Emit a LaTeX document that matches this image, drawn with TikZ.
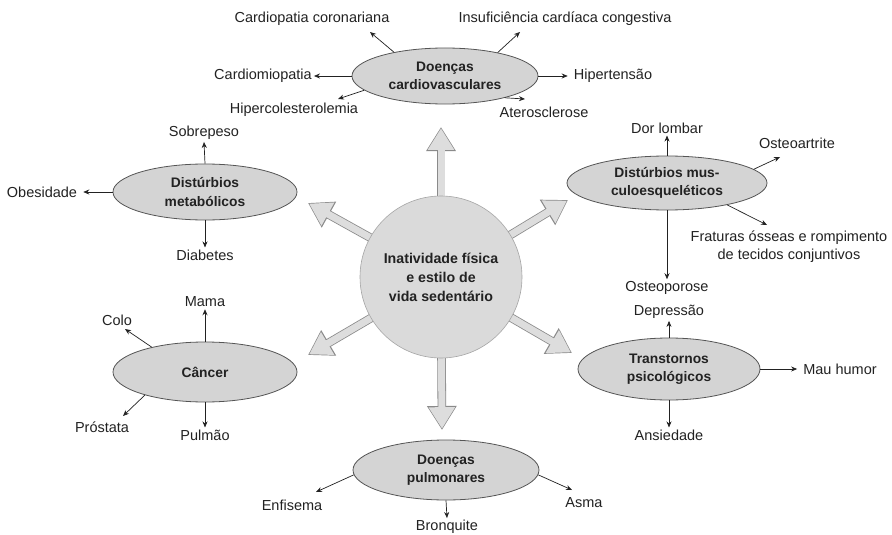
\documentclass[tikz,border=0pt]{standalone}
\usepackage{fontspec}
\setmainfont{Liberation Sans}
\usetikzlibrary{shapes.geometric,arrows.meta}
\definecolor{ellfill}{HTML}{D4D4D4}
\definecolor{ellline}{HTML}{555555}
\definecolor{txt}{HTML}{222222}
\definecolor{bigfill}{HTML}{DDDDDD}
\definecolor{bigline}{HTML}{8A8A8A}
\begin{document}
\begin{tikzpicture}[x=1pt,y=-1pt,
  lab/.style={font=\fontsize{14.5}{18}\selectfont, text=txt, inner sep=2pt, align=center},
  ell/.style={ellipse, draw=ellline, line width=0.8pt, fill=ellfill, inner sep=0pt, align=center, font=\fontsize{13.8}{18.5}\selectfont\bfseries, text=txt},
  sm/.style={draw=txt, line width=0.7pt, -{Stealth[length=6pt,width=5pt]}},
  bigout/.style={line width=8.6pt, bigline, -{Triangle[length=24pt,width=28pt]}},
  bigin/.style={line width=7pt, bigfill, -{Triangle[length=21.5pt,width=25pt]}, shorten >=1.3pt},
]
\useasboundingbox[fill=white] (0,0) rectangle (892,535);

% big arrow tips
\coordinate (tU) at (441,127);
\coordinate (tD) at (442,430);
\coordinate (tUL) at (308,203);
\coordinate (tUR) at (568,200);
\coordinate (tDL) at (308,355);
\coordinate (tDR) at (572,353);
\coordinate (cc0) at (441,277);
\foreach \t in {tU,tD,tUL,tUR,tDL,tDR}{
  \draw[bigout] (cc0) -- (\t);
  \draw[bigin] (cc0) -- (\t);
}

% central circle
\node[circle, minimum size=162pt, fill=ellfill!85, draw=gray!70, line width=0.6pt, inner sep=0pt,
  font=\fontsize{14.2}{19}\selectfont\bfseries, text=txt, align=center] (core) at (cc0)
  {Inatividade física\\e estilo de\\vida sedentário};

% ellipses
\node[ell, minimum width=186pt, minimum height=56pt] (cv) at (445,76) {Doenças\\cardiovasculares};
\node[ell, minimum width=184pt, minimum height=56pt] (met) at (205,192) {Distúrbios\\metabólicos};
\node[ell, minimum width=200pt, minimum height=54pt] (msk) at (667,183) {Distúrbios mus-\\culoesqueléticos};
\node[ell, minimum width=182pt, minimum height=62pt] (psy) at (669,369) {Transtornos\\psicológicos};
\node[ell, minimum width=184pt, minimum height=60pt] (can) at (205,372) {Câncer};
\node[ell, minimum width=186pt, minimum height=60pt] (pul) at (446,470) {Doenças\\pulmonares};

% cardiovascular labels
\node[lab] (lcc) at (312,19) {Cardiopatia coronariana};
\node[lab] (lins) at (565,19) {Insuficiência cardíaca congestiva};
\node[lab] (lcmio) at (263,76) {Cardiomiopatia};
\node[lab] (lhip) at (613,76) {Hipertensão};
\node[lab] (lhc) at (294,110) {Hipercolesterolemia};
\node[lab] (lath) at (544,112) {Aterosclerose};
\coordinate (a1) at (370,32);
\coordinate (a2) at (520,32);
\coordinate (a3) at (338,99);
\coordinate (a4) at (525,99);
\draw[sm] (cv.155) -- (a1);
\draw[sm] (cv.24) -- (a2);
\draw[sm] (cv.west) -- (lcmio.east);
\draw[sm, shorten >=4pt] (cv.east) -- (lhip.west);
\draw[sm] (cv.190) -- (a3);
\draw[sm] (cv.-20) -- (a4);

% metabolic
\node[lab] (lsob) at (204,133) {Sobrepeso};
\node[lab] (lobe) at (42,192) {Obesidade};
\node[lab] (ldia) at (205,255) {Diabetes};
\draw[sm] (met.north) -- (lsob.south);
\draw[sm, shorten >=4pt] (met.west) -- (lobe.east);
\draw[sm] (met.south) -- (ldia.north);

% musculoskeletal
\node[lab] (ldor) at (667,128) {Dor lombar};
\node[lab] (lost) at (797,143) {Osteoartrite};
\node[lab] (lfra) at (789,247) {Fraturas ósseas e rompimento\\de tecidos conjuntivos};
\node[lab] (lop) at (667,288) {Osteoporose};
\coordinate (a5) at (780,157);
\coordinate (a6) at (767,225);
\draw[sm] (msk.north) -- (ldor.south);
\draw[sm] (msk.9) -- (a5);
\draw[sm] (msk.-20) -- (a6);
\draw[sm] (msk.south) -- (lop.north);

% psychological
\node[lab] (ldep) at (669,312) {Depressão};
\node[lab] (lmau) at (840,369) {Mau humor};
\node[lab] (lans) at (669,435) {Ansiedade};
\draw[sm] (psy.north) -- (ldep.south);
\draw[sm, shorten >=4pt] (psy.east) -- (lmau.west);
\draw[sm] (psy.south) -- (lans.north);

% cancer
\node[lab] (lmama) at (205,302) {Mama};
\node[lab] (lcolo) at (117,320) {Colo};
\node[lab] (lpro) at (102,427) {Próstata};
\node[lab] (lpul) at (205,435) {Pulmão};
\coordinate (a7) at (125,329);
\coordinate (a8) at (123,416);
\draw[sm] (can.north) -- (lmama.south);
\draw[sm] (can.155) -- (a7);
\draw[sm] (can.201) -- (a8);
\draw[sm] (can.south) -- (lpul.north);

% pulmonary
\node[lab] (lenf) at (292,505) {Enfisema};
\node[lab] (lasma) at (584,503) {Asma};
\node[lab] (lbro) at (447,527) {Bronquite};
\coordinate (a9) at (316,492);
\coordinate (a10) at (572,490);
\draw[sm] (pul.183) -- (a9);
\draw[sm] (pul.-3) -- (a10);
\draw[sm] (pul.south) -- (lbro.north);
\end{tikzpicture}
\end{document}
